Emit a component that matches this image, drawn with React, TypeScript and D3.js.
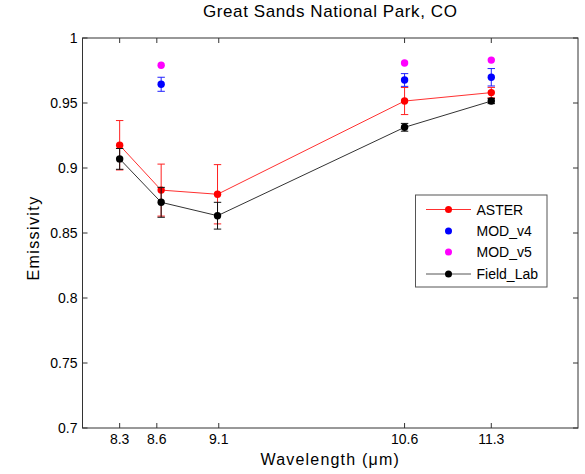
import React from "react";
import * as d3 from "d3";

const wavelengths = [8.3, 8.635, 9.09, 10.6, 11.3];
const asterVals = [0.9175, 0.883, 0.8798, 0.9515, 0.958];
const asterErr = [0.019, 0.02, 0.0228, 0.0104, 0.004];
const fieldVals = [0.907, 0.8736, 0.8633, 0.9313, 0.9515];
const fieldErr = [0.008, 0.0115, 0.0103, 0.003, 0.002];
const modWavelengths = [8.635, 10.6, 11.3];
const modV4Vals = [0.9644, 0.9677, 0.9698];
const modV4Err = [0.0054, 0.0049, 0.0067];
const modV5Vals = [0.979, 0.9808, 0.983];
const xTicks = [8.3, 8.6, 9.1, 10.6, 11.3];
const xTickLabels = ["8.3", "8.6", "9.1", "10.6", "11.3"];
const yTicks = [0.7, 0.75, 0.8, 0.85, 0.9, 0.95, 1];
const yTickLabels = ["0.7", "0.75", "0.8", "0.85", "0.9", "0.95", "1"];
const legendNames = ["ASTER", "MOD_v4", "MOD_v5", "Field_Lab"];

const W = 585, H = 474;
const L = 82.5, R = 578, T = 38, B = 428;
const FONT = "'Liberation Sans', Arial, Helvetica, sans-serif";

export default function App() {
  const x = d3.scaleLinear().domain([8, 12]).range([L, R]);
  const y = d3.scaleLinear().domain([0.7, 1]).range([B, T]);
  const line = d3.line<[number, number]>().x(d => x(d[0])).y(d => y(d[1]));
  const asterPts = wavelengths.map((w, i) => [w, asterVals[i]] as [number, number]);
  const fieldPts = wavelengths.map((w, i) => [w, fieldVals[i]] as [number, number]);
  const cap = 3.7;
  const r = 3.7;

  const errBars = (xs: number[], vs: number[], es: number[], color: string, key: string) =>
    xs.map((w, i) => {
      const cx = x(w), y1 = y(vs[i] + es[i]), y2 = y(vs[i] - es[i]);
      return (
        <g key={key + i} stroke={color} strokeWidth={1}>
          <line x1={cx} x2={cx} y1={y1} y2={y2} />
          <line x1={cx - cap} x2={cx + cap} y1={y1} y2={y1} />
          <line x1={cx - cap} x2={cx + cap} y1={y2} y2={y2} />
        </g>
      );
    });

  const legX = 415.5, legY = 195, legW = 131.5, legH = 92;
  const legRows = [209.5, 231, 252, 274];
  const legColors = ["#ff0000", "#0000ff", "#ff00ff", "#000000"];
  const legLine = [true, false, false, true];

  return (
    <svg width={W} height={H} style={{ position: "absolute", left: 0, top: 0, background: "#fff" }} fontFamily={FONT}>
      <rect x={0} y={0} width={W} height={H} fill="#fff" />
      <text x={(L + R) / 2} y={17} textAnchor="middle" fontSize={17} letterSpacing={0.6} fill="#000">Great Sands National Park, CO</text>
      {/* axes box */}
      <rect x={L} y={T} width={R - L} height={B - T} fill="none" stroke="#333" strokeWidth={1} />
      {xTicks.map((t, i) => (
        <g key={"xt" + i}>
          <line x1={x(t)} x2={x(t)} y1={B} y2={B - 5} stroke="#333" />
          <line x1={x(t)} x2={x(t)} y1={T} y2={T + 5} stroke="#333" />
          <text x={x(t)} y={B + 16} textAnchor="middle" fontSize={14} fill="#000">{xTickLabels[i]}</text>
        </g>
      ))}
      {yTicks.map((t, i) => (
        <g key={"yt" + i}>
          <line x1={L} x2={L + 5} y1={y(t)} y2={y(t)} stroke="#333" />
          <line x1={R} x2={R - 5} y1={y(t)} y2={y(t)} stroke="#333" />
          <text x={L - 5} y={y(t) + 5} textAnchor="end" fontSize={14} fill="#000">{yTickLabels[i]}</text>
        </g>
      ))}
      <text x={(L + R) / 2} y={465} textAnchor="middle" fontSize={16} letterSpacing={1.2} fill="#000">Wavelength (μm)</text>
      <text transform={`translate(38.5,${(T + B) / 2 + 5}) rotate(-90)`} textAnchor="middle" fontSize={16} letterSpacing={1.4} fill="#000">Emissivity</text>

      {/* ASTER */}
      {errBars(wavelengths, asterVals, asterErr, "#ff2020", "ae")}
      <path d={line(asterPts) || ""} fill="none" stroke="#ff3030" strokeWidth={1} />
      {asterPts.map((p, i) => <circle key={"ac" + i} cx={x(p[0])} cy={y(p[1])} r={r} fill="#ff0000" />)}
      {/* MOD v4 */}
      {errBars(modWavelengths, modV4Vals, modV4Err, "#2020ff", "m4e")}
      {modWavelengths.map((w, i) => <circle key={"m4" + i} cx={x(w)} cy={y(modV4Vals[i])} r={r} fill="#0000ff" />)}
      {/* MOD v5 */}
      {modWavelengths.map((w, i) => <circle key={"m5" + i} cx={x(w)} cy={y(modV5Vals[i])} r={r} fill="#ff00ff" />)}
      {/* Field */}
      {errBars(wavelengths, fieldVals, fieldErr, "#111", "fe")}
      <path d={line(fieldPts) || ""} fill="none" stroke="#333" strokeWidth={1} />
      {fieldPts.map((p, i) => <circle key={"fc" + i} cx={x(p[0])} cy={y(p[1])} r={r} fill="#000" />)}

      {/* legend */}
      <rect x={legX} y={legY} width={legW} height={legH} fill="#fff" stroke="#555" strokeWidth={1} />
      {legendNames.map((n, i) => (
        <g key={"lg" + i}>
          {legLine[i] && <line x1={426} x2={471} y1={legRows[i]} y2={legRows[i]} stroke={i === 0 ? "#ff3030" : "#555"} strokeWidth={1} />}
          <circle cx={448.5} cy={legRows[i]} r={3.5} fill={legColors[i]} />
          <text x={476.5} y={legRows[i] + 5} fontSize={14} fill="#000">{n}</text>
        </g>
      ))}
    </svg>
  );
}
